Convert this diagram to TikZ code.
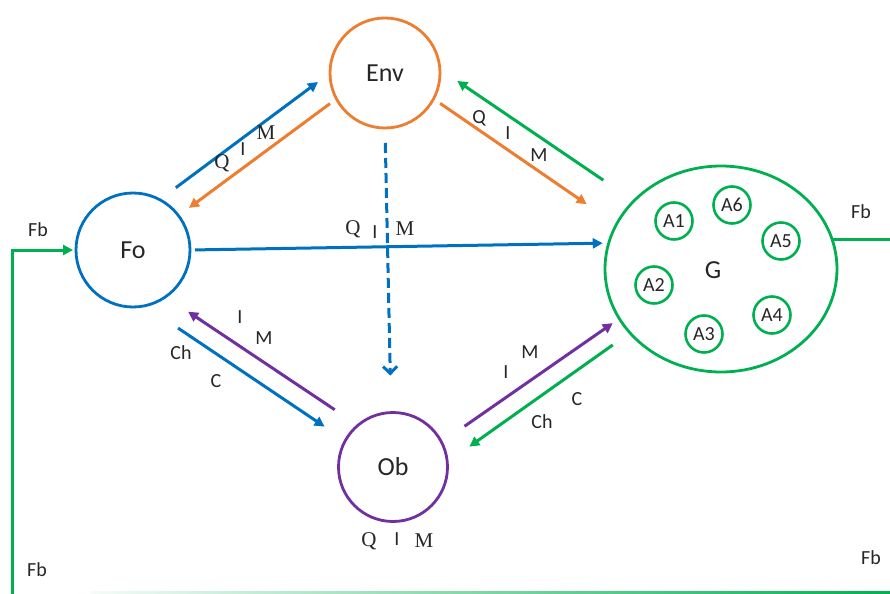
\documentclass[tikz,border=0pt]{standalone}
\usepackage{fontspec}
\setmainfont{Carlito}
\newfontfamily\qimfont{Liberation Serif}
\usetikzlibrary{arrows.meta,shapes.geometric}
\definecolor{foblue}{RGB}{0,112,192}
\definecolor{envorange}{RGB}{237,125,49}
\definecolor{ggreen}{RGB}{0,176,80}
\definecolor{obpurple}{RGB}{112,48,160}

\begin{document}
\begin{tikzpicture}[x=0.5pt, y=-0.5pt,
            agent/.style={circle, draw, line width=1.4pt, minimum size=#1, inner sep=0pt, outer sep=0pt, text=black!85, font=\fontsize{13}{15}\selectfont},
            sub/.style={circle, draw=ggreen, line width=1.3pt, minimum size=18.5pt, inner sep=0pt, text=black!85, font=\fontsize{10}{12}\selectfont},
            flow/.style={line width=1.5pt, -{Triangle[length=5pt,width=5pt]}},
            lab/.style={inner sep=0pt, text=black!85, font=\fontsize{10}{12}\selectfont},
            slab/.style={inner sep=0pt, text=black!85, font=\fontsize{10.5}{12}\selectfont\qimfont}]
  \useasboundingbox (0,0) rectangle (890,594);
  \node[agent=55pt, draw=envorange] (env) at (385,73) {Env};
  \node[agent=57pt, draw=foblue] (fo) at (133,250) {Fo};
  \node[agent=54.5pt, draw=obpurple] (ob) at (393,467) {Ob};
  \node[ellipse, draw=ggreen, line width=1.4pt, minimum width=116pt, minimum height=103pt,
        inner sep=0pt, outer sep=0pt] (g) at (721,269) {};
  \node[inner sep=0pt, text=black!85, font=\fontsize{13}{15}\selectfont] (glab) at (713,270) {G};
  \node[sub] (a1) at (674,221) {A1};
  \node[sub] (a6) at (732,205) {A6};
  \node[sub] (a5) at (781,241) {A5};
  \node[sub] (a2) at (654,285) {A2};
  \node[sub] (a4) at (772,315) {A4};
  \node[sub] (a3) at (704,334) {A3};

  \draw[flow, foblue, shorten <=10pt, shorten >=7.5pt] (fo.62) -- (env.180);
  \draw[flow, envorange, shorten <=4pt, shorten >=6.5pt] (env.208) -- (fo.37);
  \draw[flow, envorange, shorten <=4pt, shorten >=18pt] (env.332) -- (g.157);
  \draw[flow, ggreen, shorten <=18.5pt, shorten >=10.5pt] (g.142) -- (env.4);
  \draw[flow, foblue, shorten <=2.5pt, shorten >=3pt] (fo.0) -- (g.167);
  \draw[line width=1.5pt, foblue, dash pattern=on 5pt off 2.5pt, -{Straight Barb[length=3.5pt,width=7pt]},
        shorten <=7.5pt, shorten >=18.5pt] (env.270) -- (ob.92);
  \draw[flow, obpurple, shorten <=14pt, shorten >=13.5pt] (ob.130) -- (fo.-55);
  \draw[flow, foblue, shorten <=20pt, shorten >=12.5pt] (fo.-78) -- (ob.151);
  \draw[flow, obpurple, shorten <=14pt, shorten >=4pt] (ob.27) -- (g.206);
  \draw[flow, ggreen, shorten <=10.5pt, shorten >=13.5pt] (g.215) -- (ob.5);

  \node[slab] (qfe) at (222,163) {Q};
  \node[lab] (ife) at (243,149) {I};
  \node[slab] (mfe) at (266,133) {M};
  \node[lab] (qeg) at (479,118) {Q};
  \node[lab] (ieg) at (508,133) {I};
  \node[lab] (meg) at (539,155) {M};
  \node[slab] (qfg) at (353,229) {Q};
  \node[lab] (ifg) at (375,232) {I};
  \node[slab] (mfg) at (405,229) {M};
  \node[lab] (iof) at (240,317) {I};
  \node[lab] (mof) at (264,338) {M};
  \node[lab] (chfo) at (181,353) {Ch};
  \node[lab] (cfo) at (216,381) {C};
  \node[lab] (mog) at (530,352) {M};
  \node[lab] (iog) at (506,372) {I};
  \node[lab] (cgo) at (577,399) {C};
  \node[lab] (chgo) at (542,422) {Ch};
  \node[slab] (qob) at (369,541) {Q};
  \node[lab] (iob) at (397,539) {I};
  \node[slab] (mob) at (424,541) {M};

  \coordinate (fbin) at (12,594);
  \coordinate (fbout) at (890,240);
  \draw[flow, ggreen, shorten >=1.5pt] (fbin) |- (fo.west);
  \draw[line width=1.5pt, ggreen] (g.15) -- (g.15 -| fbout);
  \shade[left color=ggreen!4, right color=ggreen] (90,591) rectangle (890,593);
  \node[lab] (fbfo) at (38,230) {Fb};
  \node[lab] (fbg) at (861,212) {Fb};
  \node[lab] (fbbl) at (37,570) {Fb};
  \node[lab] (fbbr) at (871,558) {Fb};
\end{tikzpicture}
\end{document}
